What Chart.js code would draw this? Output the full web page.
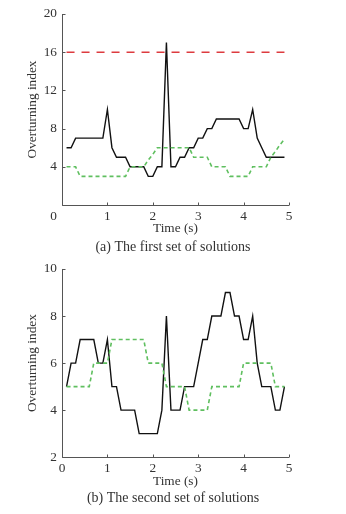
<!DOCTYPE html>
<html>
<head>
<meta charset="utf-8">
<script src="https://cdn.jsdelivr.net/npm/chart.js@4/dist/chart.umd.min.js"></script>
<style>
  html, body { margin: 0; padding: 0; background: #fff; }
  .wrap { position: relative; width: 346px; }
  #c1wrap { height: 256px; }
  #c2wrap { height: 258px; }
</style>
</head>
<body>
<div class="wrap" id="c1wrap"><canvas id="c1"></canvas></div>
<div class="wrap" id="c2wrap"><canvas id="c2"></canvas></div>
<script>
// ---- Data ----
const times = [0.1,0.2,0.3,0.4,0.5,0.6,0.7,0.8,0.9,1.0,1.1,1.2,1.3,1.4,1.5,1.6,1.7,1.8,1.9,2.0,
               2.1,2.2,2.3,2.4,2.5,2.6,2.7,2.8,2.9,3.0,3.1,3.2,3.3,3.4,3.5,3.6,3.7,3.8,3.9,4.0,
               4.1,4.2,4.3,4.4,4.5,4.6,4.7,4.8,4.9];

// (a) first set of solutions
const setA_black = [6,6,7,7,7,7,7,7,7,10,6,5,5,5,4,4,4,4,3,3,
                    4,4,17,4,4,5,5,6,6,7,7,8,8,9,9,9,9,9,9,8,
                    8,10,7,6,5,5,5,5,5];
const setA_green = [4,4,4,3,3,3,3,3,3,3,3,3,3,3,4,4,4,4,4.7,5.3,
                    6,6,6,6,6,6,6,6,5,5,5,5,4,4,4,4,3,3,3,3,
                    3,4,4,4,4,5,5.6,6.3,6.9];
const setA_limit = [16,16];
const limitTimes = [0.1,4.9];

// (b) second set of solutions
const setB_black = [5,6,6,7,7,7,7,6,6,7,5,5,4,4,4,4,3,3,3,3,
                    3,4,8,4,4,4,5,5,5,6,7,7,8,8,8,9,9,8,8,7,
                    7,8,6,5,5,5,4,4,5];
const setB_green = [5,5,5,5,5,5,6,6,6,6,7,7,7,7,7,7,7,7,6,6,
                    6,6,5,5,5,5,5,4,4,4,4,4,5,5,5,5,5,5,5,6,
                    6,6,6,6,6,6,5,5,5];

const xTicks = [0,1,2,3,4,5];
const yTicksA = [0,4,8,12,16,20];
const yTicksB = [2,4,6,8,10];

const captionA = '(a) The first set of solutions';
const captionB = '(b) The second set of solutions';
const xTitle = 'Time (s)';
const yTitle = 'Overturning index';

// ---- Styling ----
const FONT = "'Liberation Serif', 'Times New Roman', serif";
const TXT = '#333333';
const AXIS = '#555555';
const TICK_SIZE = 13.3;
const CAP_SIZE = 14;

function pts(xs, ys) { return xs.map((x, i) => ({ x: x, y: ys[i] })); }

// plugin: draw inward tick marks, the left/bottom axis lines, and a shared origin label
const innerTicks = {
  id: 'innerTicks',
  afterDatasetsDraw(chart, args, pluginOpts) {
    const ctx = chart.ctx;
    const xs = chart.scales.x, ys = chart.scales.y;
    const a = chart.chartArea;
    ctx.save();
    ctx.strokeStyle = AXIS;
    ctx.lineWidth = 1;
    ctx.beginPath();
    ctx.moveTo(Math.round(a.left) + 0.5, a.top);
    ctx.lineTo(Math.round(a.left) + 0.5, Math.round(a.bottom) + 0.5);
    ctx.lineTo(a.right, Math.round(a.bottom) + 0.5);
    xs.ticks.forEach(t => {
      const px = Math.round(xs.getPixelForValue(t.value)) + 0.5;
      ctx.moveTo(px, Math.round(a.bottom) + 0.5);
      ctx.lineTo(px, Math.round(a.bottom) - 2.5);
    });
    ys.ticks.forEach(t => {
      const py = Math.round(ys.getPixelForValue(t.value)) + 0.5;
      ctx.moveTo(Math.round(a.left) + 0.5, py);
      ctx.lineTo(Math.round(a.left) + 3.5, py);
    });
    ctx.stroke();
    if (pluginOpts && pluginOpts.originLabel) {
      ctx.fillStyle = TXT;
      ctx.font = TICK_SIZE + 'px ' + FONT;
      ctx.textAlign = 'right';
      ctx.textBaseline = 'middle';
      ctx.fillText(pluginOpts.originLabel, a.left - 5, a.bottom + pluginOpts.labelGap);
    }
    ctx.restore();
  }
};

function makeChart(id, opts) {
  const datasets = [];
  if (opts.limit) {
    datasets.push({
      data: pts(limitTimes, opts.limit),
      borderColor: '#dd3b3f', borderWidth: 1.5, borderDash: [8, 7],
      pointRadius: 0, fill: false, tension: 0
    });
  }
  datasets.push({
    data: pts(times, opts.green),
    borderColor: '#5fbf5f', borderWidth: 1.6, borderDash: [4, 3],
    pointRadius: 0, fill: false, tension: 0
  });
  datasets.push({
    data: pts(times, opts.black),
    borderColor: '#111111', borderWidth: 1.4,
    pointRadius: 0, fill: false, tension: 0
  });

  return new Chart(document.getElementById(id), {
    type: 'line',
    data: { datasets: datasets },
    options: {
      responsive: true,
      maintainAspectRatio: false,
      animation: false,
      events: [],
      layout: { padding: { left: 0, right: 0, top: opts.padTop, bottom: 0 } },
      plugins: {
        legend: { display: false },
        tooltip: { enabled: false },
        title: {
          display: true, position: 'bottom', text: opts.caption,
          color: TXT, font: { family: FONT, size: CAP_SIZE, weight: 'normal' },
          padding: { top: opts.capTop, bottom: opts.capBottom }
        },
        innerTicks: { originLabel: opts.originLabel, labelGap: opts.tickPad + TICK_SIZE * 0.6 }
      },
      scales: {
        x: {
          type: 'linear', min: 0, max: 5,
          border: { display: false },
          grid: { display: false, drawTicks: false },
          afterBuildTicks: s => { s.ticks = xTicks.map(v => ({ value: v })); },
          afterFit: s => { s.height = opts.xHeight; },
          ticks: { color: TXT, padding: opts.tickPad, font: { family: FONT, size: TICK_SIZE }, maxRotation: 0,
                   callback: v => (opts.originLabel && v === 0) ? '' : String(v) },
          title: { display: true, text: xTitle, color: TXT, padding: { top: 0, bottom: 0 },
                   font: { family: FONT, size: TICK_SIZE } }
        },
        y: {
          min: opts.yTicks[0], max: opts.yTicks[opts.yTicks.length - 1],
          border: { display: false },
          grid: { display: false, drawTicks: false },
          afterBuildTicks: s => { s.ticks = opts.yTicks.map(v => ({ value: v })); },
          afterFit: s => { s.width = 62; },
          ticks: { color: TXT, padding: 5, font: { family: FONT, size: TICK_SIZE },
                   callback: v => (opts.originLabel && v === 0) ? '' : String(v) },
          title: { display: true, text: yTitle, color: TXT, padding: { top: 25, bottom: 0 },
                   font: { family: FONT, size: TICK_SIZE } }
        },
        yr: {
          position: 'right', display: true,
          border: { display: false },
          grid: { display: false, drawTicks: false },
          ticks: { display: false },
          afterFit: s => { s.width = 57; }
        }
      }
    },
    plugins: [innerTicks]
  });
}

makeChart('c1', {
  black: setA_black, green: setA_green, limit: setA_limit,
  yTicks: yTicksA, caption: captionA, originLabel: '0',
  padTop: 14, xHeight: 31.6, tickPad: 4, capTop: 2, capBottom: 0.6
});
makeChart('c2', {
  black: setB_black, green: setB_green, limit: null,
  yTicks: yTicksB, caption: captionB, originLabel: null,
  padTop: 9, xHeight: 32.4, tickPad: 3, capTop: 0, capBottom: 7.6
});
</script>
</body>
</html>
